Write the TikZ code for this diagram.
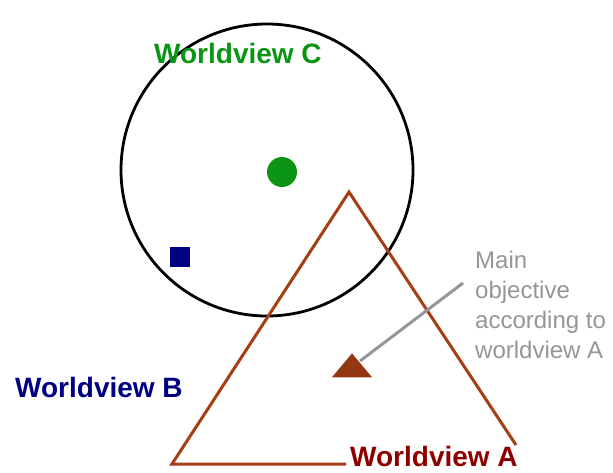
\documentclass[tikz,border=0pt]{standalone}
\usepackage{fontspec}
\setmainfont{Liberation Sans}
\usetikzlibrary{shapes.geometric}
\definecolor{brownA}{RGB}{165,62,20}
\definecolor{redA}{RGB}{140,0,0}
\definecolor{navyB}{RGB}{0,0,130}
\definecolor{greenC}{RGB}{10,150,20}
\definecolor{grayT}{RGB}{150,150,150}
\tikzset{
  lbl/.style={font=\fontsize{28}{30}\selectfont\bfseries, inner sep=0pt, anchor=base west},
  note/.style={font=\fontsize{24}{30}\selectfont, text=grayT, inner sep=0pt, anchor=north west, align=left},
}
\begin{document}
\begin{tikzpicture}[x=1pt,y=-1pt]
\useasboundingbox (0,0) rectangle (613,472);
\fill[white] (0,0) rectangle (613,472);
% circle
\node[circle, draw=black, line width=2.8pt, minimum size=292pt, inner sep=0pt] (circ) at (267,170) {};
% green dot
\node[circle, fill=greenC, minimum size=30pt, inner sep=0pt] (dot) at (282,172) {};
% blue square
\node[rectangle, fill=navyB, minimum size=20pt, inner sep=0pt] (sq) at (180,257) {};
% triangle
\coordinate (bl) at (172,464);
\coordinate (apex) at (349,192);
\coordinate (br) at (516,445);
\coordinate (bend) at (346,464);
\draw[brownA, line width=3pt, line join=miter] (bend) -- (bl) -- (apex) -- (br);
% small triangle
\node[isosceles triangle, isosceles triangle apex angle=80, shape border rotate=90, fill=brownA!90!black, minimum height=24pt, inner sep=0pt] (obj) at (352,368) {};
% labels
\node[lbl, text=greenC] (wc) at (154,63) {Worldview C};
\node[lbl, text=navyB] (wb) at (15,397) {Worldview B};
\node[lbl, text=redA] (wa) at (350,466) {Worldview A};
\node[note] (txt) at (475,251) {Main\\objective\\according to\\worldview A};
\coordinate (lstart) at (360,361);
\coordinate (lineend) at (463,283);
\draw[grayT, line width=3pt] (lstart) -- (lineend);
\end{tikzpicture}
\end{document}
